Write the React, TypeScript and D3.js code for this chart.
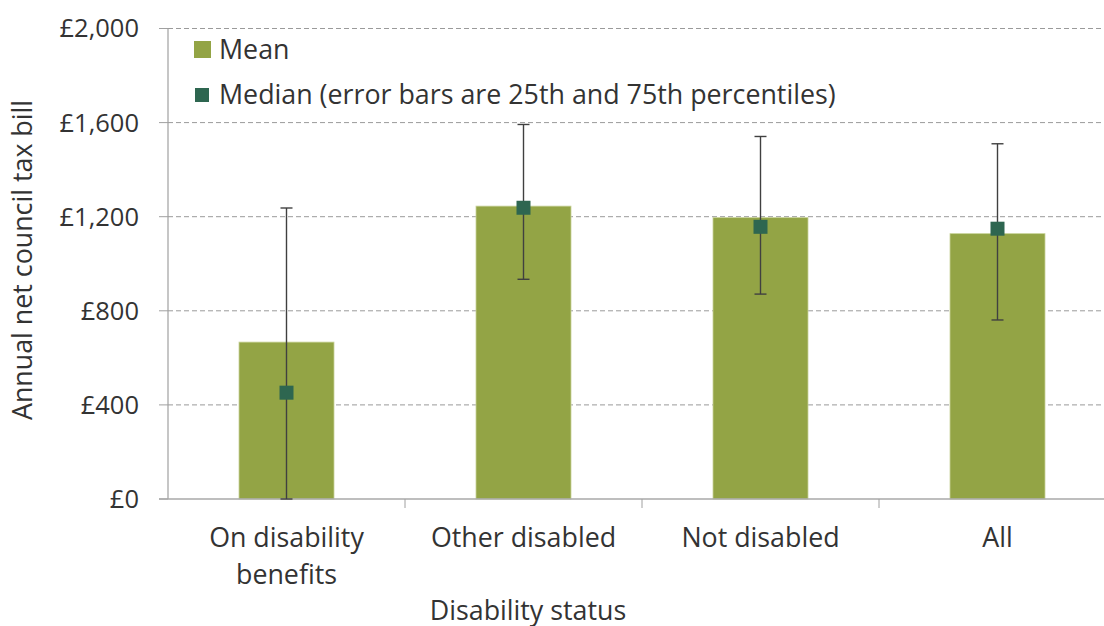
import React from "react";
import * as d3 from "d3";

const categories = ["On disability benefits", "Other disabled", "Not disabled", "All"];
const categoryLines = [["On disability", "benefits"], ["Other disabled"], ["Not disabled"], ["All"]];
const meanValues = [667, 1245, 1196, 1128];
const medianValues = [452, 1238, 1157, 1149];
const p25Values = [0, 934, 871, 761];
const p75Values = [1237, 1592, 1541, 1510];
const yTicks = [0, 400, 800, 1200, 1600, 2000];

const W = 1104;
const H = 626;
const left = 168;
const top = 28.5;
const bottom = 499;
const bandW = 237;

export default function App() {
  const x = d3
    .scaleBand<string>()
    .domain(categories)
    .range([left, left + bandW * categories.length])
    .paddingInner(0)
    .paddingOuter(0);
  const y = d3.scaleLinear().domain([0, 2000]).range([bottom, top]);
  const fmt = (v: number) => "£" + d3.format(",")(v);
  const barW = 95;
  const textColor = "#333333";
  const font = "'Open Sans', 'Noto Sans', sans-serif";
  const fs = 26.8;

  return (
    <div style={{ position: "absolute", left: 0, top: 0 }}>
      <svg width={W} height={H} style={{ display: "block", fontFamily: font }}>
        <rect width={W} height={H} fill="#ffffff" />
        {/* gridlines */}
        {yTicks.map((t) => (
          <g key={t}>
            {t > 0 && (
              <line
                x1={left}
                x2={W}
                y1={y(t)}
                y2={y(t)}
                stroke="#9a9a9a"
                strokeWidth={1}
                strokeDasharray="5,3"
              />
            )}
            <line x1={159} x2={left} y1={y(t)} y2={y(t)} stroke="#a0a0a0" strokeWidth={1} />
            <text
              x={139}
              y={y(t)}
              dy="0.35em"
              textAnchor="end"
              fontSize={25.5}
              fill={textColor}
            >
              {fmt(t)}
            </text>
          </g>
        ))}
        {/* bars */}
        {categories.map((c, i) => {
          const cx = (x(c) as number) + x.bandwidth() / 2;
          return (
            <rect
              key={c}
              x={cx - barW / 2}
              y={y(meanValues[i])}
              width={barW}
              height={y(0) - y(meanValues[i])}
              fill="#93a445"
              stroke="#c9d39a"
              strokeWidth={0.8}
            />
          );
        })}
        {/* axes */}
        <line x1={left} x2={left} y1={top} y2={bottom} stroke="#a0a0a0" strokeWidth={1.2} />
        <line x1={159} x2={W} y1={bottom} y2={bottom} stroke="#a8a8a8" strokeWidth={1.5} />
        {categories.slice(1).map((c) => (
          <line
            key={c}
            x1={x(c) as number}
            x2={x(c) as number}
            y1={bottom}
            y2={bottom + 9}
            stroke="#a0a0a0"
            strokeWidth={1}
          />
        ))}
        {/* error bars and medians */}
        {categories.map((c, i) => {
          const cx = (x(c) as number) + x.bandwidth() / 2;
          const m = 7;
          return (
            <g key={c}>
              <line x1={cx} x2={cx} y1={y(p25Values[i])} y2={y(p75Values[i])} stroke="#404040" strokeWidth={1.4} />
              <line x1={cx - 6} x2={cx + 6} y1={y(p75Values[i])} y2={y(p75Values[i])} stroke="#404040" strokeWidth={1.4} />
              <line x1={cx - 6} x2={cx + 6} y1={y(p25Values[i])} y2={y(p25Values[i])} stroke="#404040" strokeWidth={1.4} />
              <rect x={cx - m} y={y(medianValues[i]) - m} width={2 * m} height={2 * m} fill="#2e6650" />
            </g>
          );
        })}
        {/* category labels */}
        {categories.map((c, i) => {
          const cx = (x(c) as number) + x.bandwidth() / 2;
          return (
            <text key={c} x={cx} textAnchor="middle" fontSize={fs} fill={textColor}>
              {categoryLines[i].map((ln, j) => (
                <tspan key={j} x={cx} y={546.5 + j * 37}>
                  {ln}
                </tspan>
              ))}
            </text>
          );
        })}
        <text x={528} y={619.5} textAnchor="middle" fontSize={fs} fill={textColor}>
          Disability status
        </text>
        <text
          transform={`translate(31.5, 260) rotate(-90)`}
          textAnchor="middle"
          fontSize={fs}
          fill={textColor}
        >
          Annual net council tax bill
        </text>
        {/* legend */}
        <rect x={194} y={41} width={17} height={17} fill="#93a445" />
        <text x={219} y={49.5} dy="0.35em" fontSize={fs} fill={textColor}>
          Mean
        </text>
        <rect x={195} y={88} width={14} height={14} fill="#2e6650" />
        <text x={219} y={95} dy="0.35em" fontSize={fs} fill={textColor}>
          Median (error bars are 25th and 75th percentiles)
        </text>
      </svg>
    </div>
  );
}
